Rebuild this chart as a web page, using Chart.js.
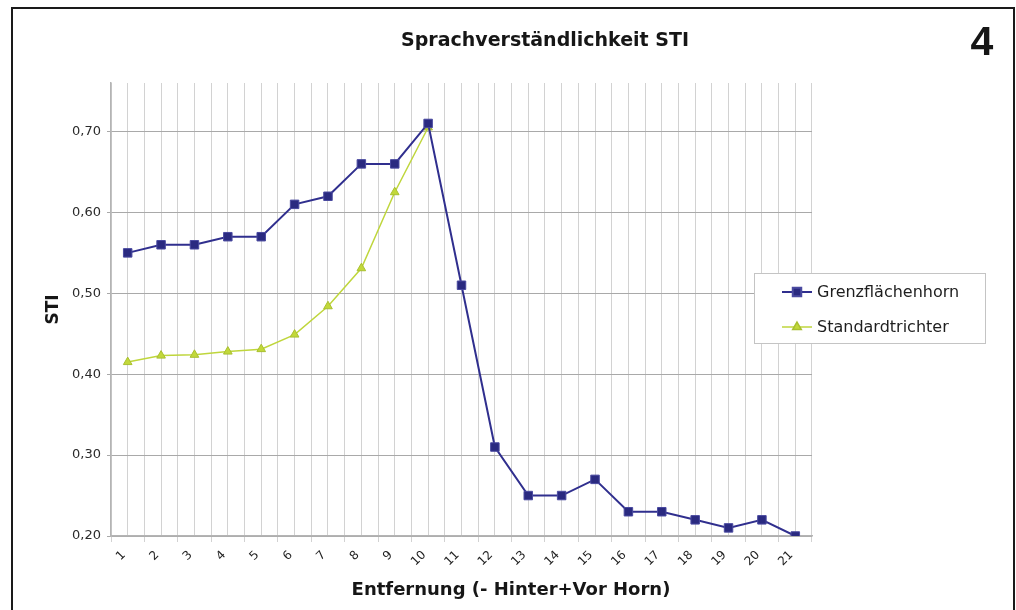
<!DOCTYPE html>
<html>
<head>
<meta charset="utf-8">
<script src="https://cdn.jsdelivr.net/npm/chart.js@4/dist/chart.umd.min.js"></script>
<style>
  html,body{margin:0;padding:0;background:#fff;}
  #wrap{position:relative;width:1016px;height:610px;overflow:hidden;}
  #frame{position:absolute;left:11px;top:7px;width:1004px;height:700px;border:2px solid #1a1a1a;box-sizing:border-box;pointer-events:none;}
  canvas{position:absolute;left:0;top:0;}
</style>
</head>
<body>
<div id="wrap">
  <canvas id="c" width="1016" height="610"></canvas>
  <div id="frame"></div>
</div>
<script>
const chartTitle = 'Sprachverständlichkeit STI';
const figureNo = '4';
const xTitle = 'Entfernung (- Hinter+Vor Horn)';
const yTitle = 'STI';
const categories = ['1','2','3','4','5','6','7','8','9','10','11','12','13','14','15','16','17','18','19','20','21'];
const seriesNames = ['Grenzflächenhorn', 'Standardtrichter'];
const grenzflaechenhorn = [0.55,0.56,0.56,0.57,0.57,0.61,0.62,0.66,0.66,0.71,0.51,0.31,0.25,0.25,0.27,0.23,0.23,0.22,0.21,0.22,0.20];
const standardtrichter = [0.415,0.423,0.424,0.428,0.431,0.449,0.484,0.531,0.625,0.705,null,null,null,null,null,null,null,null,null,null,null];
const yTickValues = [0.2,0.3,0.4,0.5,0.6,0.7];
const yTickLabels = ['0,20','0,30','0,40','0,50','0,60','0,70'];

const NAVY = '#302f8e';
const GREEN = '#bfd63c';

const deco = {
  id: 'deco',
  afterDraw(chart) {
    const ctx = chart.ctx;
    ctx.save();
    ctx.fillStyle = '#161616';
    ctx.textAlign = 'center';
    ctx.textBaseline = 'middle';
    ctx.font = 'bold 19px "DejaVu Sans"';
    ctx.fillText(chartTitle, 545, 41);
    ctx.font = 'bold 18px "DejaVu Sans"';
    ctx.fillText(xTitle, 511, 590);
    ctx.font = 'bold 41px "Liberation Sans"';
    ctx.fillText(figureNo, 982, 44);

    // legend box
    const bx = 754.5, by = 273.5, bw = 231, bh = 70;
    ctx.fillStyle = '#ffffff';
    ctx.fillRect(bx, by, bw, bh);
    ctx.strokeStyle = '#c4c4c4';
    ctx.lineWidth = 1;
    ctx.strokeRect(bx, by, bw, bh);
    const rows = [292, 327];
    chart.data.datasets.forEach((ds, i) => {
      const y = rows[i];
      ctx.strokeStyle = ds.borderColor;
      ctx.lineWidth = ds.borderWidth;
      ctx.beginPath();
      ctx.moveTo(782, y);
      ctx.lineTo(812, y);
      ctx.stroke();
      ctx.fillStyle = ds.pointBackgroundColor;
      ctx.strokeStyle = ds.pointBorderColor;
      Chart.helpers.drawPoint(ctx, {pointStyle: ds.pointStyle, radius: ds.pointRadius, rotation: 0, borderWidth: ds.pointBorderWidth}, 797, y);
      ctx.fillStyle = '#1e1e1e';
      ctx.textAlign = 'left';
      ctx.textBaseline = 'middle';
      ctx.font = '16px "DejaVu Sans"';
      ctx.fillText(ds.label, 817, y + 1);
    });
    ctx.restore();
  }
};

new Chart(document.getElementById('c'), {
  type: 'line',
  data: {
    labels: categories,
    datasets: [
      {
        label: seriesNames[0],
        data: grenzflaechenhorn,
        borderColor: NAVY,
        backgroundColor: NAVY,
        borderWidth: 2,
        pointStyle: 'rect',
        pointRadius: 6,
        pointBackgroundColor: '#2a2a80',
        pointBorderColor: '#4a4aa0',
        pointBorderWidth: 1,
        tension: 0
      },
      {
        label: seriesNames[1],
        data: standardtrichter,
        borderColor: GREEN,
        backgroundColor: GREEN,
        borderWidth: 1.5,
        pointStyle: 'triangle',
        pointRadius: 5,
        pointBackgroundColor: '#c2d83a',
        pointBorderColor: '#a9c030',
        pointBorderWidth: 1,
        tension: 0
      }
    ]
  },
  options: {
    responsive: false,
    animation: false,
    layout: { padding: { top: 83, right: 204, left: 0, bottom: 0 } },
    plugins: {
      legend: { display: false },
      title: { display: false },
      tooltip: { enabled: false }
    },
    scales: {
      x: {
        type: 'category',
        offset: true,
        grid: { offset: true, color: '#d2d2d2', lineWidth: 1, tickLength: 6, drawTicks: true },
        border: { display: true, color: '#b4b4b4', width: 1.5 },
        ticks: {
          autoSkip: false, minRotation: 45, maxRotation: 45,
          color: '#222222', padding: 6, labelOffset: -4,
          font: { family: '"DejaVu Sans"', size: 12 }
        },
        afterFit(axis) { axis.height = 74; }
      },
      x2: {
        type: 'category',
        position: 'bottom',
        offset: true,
        grid: { offset: false, color: '#d2d2d2', lineWidth: 1, drawTicks: false },
        border: { display: false },
        ticks: { display: false },
        afterFit(axis) { axis.height = 0; }
      },
      y: {
        min: 0.2,
        max: 0.76,
        afterBuildTicks(axis) { axis.ticks = yTickValues.map(v => ({ value: v })); },
        grid: { color: '#a9a9a9', lineWidth: 1, tickLength: 4 },
        border: { display: true, color: '#b4b4b4', width: 1.5 },
        ticks: {
          color: '#2a2a2a', padding: 6,
          font: { family: '"DejaVu Sans"', size: 13 },
          callback(value) {
            const i = yTickValues.findIndex(v => Math.abs(v - value) < 1e-6);
            return i >= 0 ? yTickLabels[i] : '';
          }
        },
        title: {
          display: true, text: yTitle, color: '#161616',
          font: { family: '"DejaVu Sans"', size: 17, weight: 'bold' },
          padding: { top: 43, bottom: 0 }
        },
        afterFit(axis) { axis.width = 111; }
      }
    }
  },
  plugins: [deco]
});
</script>
</body>
</html>
